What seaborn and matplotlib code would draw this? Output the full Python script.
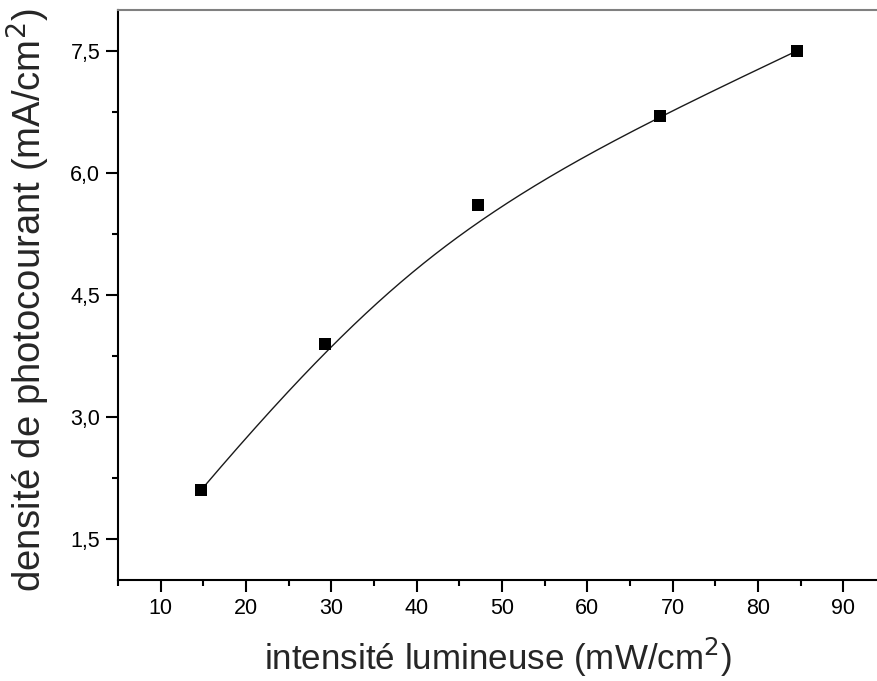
import numpy as np
import pandas as pd
import matplotlib
matplotlib.use("Agg")
import matplotlib.pyplot as plt
import seaborn as sns
from matplotlib.ticker import MultipleLocator, FuncFormatter

# Measured photocurrent density vs. light intensity
intensite = [14.7, 29.3, 47.2, 68.5, 84.6]      # mW/cm^2
densite = [2.1, 3.9, 5.6, 6.7, 7.5]             # mA/cm^2

x_ticks = [10, 20, 30, 40, 50, 60, 70, 80, 90]
y_ticks = [1.5, 3.0, 4.5, 6.0, 7.5]


def bspline(ctrl_x, ctrl_y, degree=3, n=400):
    """Clamped uniform B-spline using the measured points as control points."""
    P = np.column_stack([ctrl_x, ctrl_y])
    m = len(P)
    k = degree
    inner = np.linspace(0, 1, m - k + 1)
    knots = np.concatenate([[0] * k, inner, [1] * k])
    t = np.linspace(0, 1, n)
    t[-1] = 1 - 1e-12

    def basis(i, p, tt):
        if p == 0:
            return ((knots[i] <= tt) & (tt < knots[i + 1])).astype(float)
        out = np.zeros_like(tt)
        d1 = knots[i + p] - knots[i]
        d2 = knots[i + p + 1] - knots[i + 1]
        if d1 > 0:
            out += (tt - knots[i]) / d1 * basis(i, p - 1, tt)
        if d2 > 0:
            out += (knots[i + p + 1] - tt) / d2 * basis(i + 1, p - 1, tt)
        return out

    B = np.column_stack([basis(i, k, t) for i in range(m)])
    C = B @ P
    return C[:, 0], C[:, 1]


sns.set_theme(style="ticks")
plt.rcParams["font.family"] = ["Liberation Sans", "DejaVu Sans"]

fig = plt.figure(figsize=(8.77, 6.81), dpi=100)
W, H = 877, 681
left, right, top, bottom = 118, 886, 10, 580
ax = fig.add_axes([left / W, 1 - bottom / H, (right - left) / W, (bottom - top) / H])

cx, cy = bspline(intensite, densite)
curve = pd.DataFrame({"x": cx, "y": cy})
pts = pd.DataFrame({"intensite": intensite, "densite": densite})

sns.lineplot(data=curve, x="x", y="y", sort=False, ax=ax, color="#1a1a1a",
             linewidth=1.0, zorder=2)
sns.scatterplot(data=pts, x="intensite", y="densite", ax=ax, marker="s",
                s=80, color="black", edgecolor="black", linewidth=0, zorder=3)

ax.set_xlim(5, 95)
ax.set_ylim(1.0, 8.0)
ax.set_xticks(x_ticks)
ax.set_yticks(y_ticks)
ax.xaxis.set_minor_locator(MultipleLocator(5))
ax.yaxis.set_minor_locator(MultipleLocator(0.75))
ax.yaxis.set_major_formatter(FuncFormatter(lambda v, _: f"{v:.1f}".replace(".", ",")))
ax.xaxis.set_major_formatter(FuncFormatter(lambda v, _: f"{v:.0f}"))

ax.tick_params(which="major", direction="out", length=8.5, width=1.5,
               labelsize=15.5, pad=4.3, color="black", labelcolor="black")
ax.tick_params(which="minor", direction="out", length=4.5, width=1.5, color="black")

for side in ("left", "bottom"):
    ax.spines[side].set_linewidth(1.5)
    ax.spines[side].set_color("black")
ax.spines["top"].set_linewidth(1.5)
ax.spines["top"].set_color("#808080")
ax.spines["right"].set_visible(False)

ax.set_xlabel("intensité lumineuse (mW/cm$^2$)", fontsize=25.2)
ax.set_ylabel("densité de photocourant (mA/cm$^2$)", fontsize=27.5)
ax.xaxis.set_label_coords((498 - left) / (right - left), (bottom - 636) / (bottom - top))
ax.yaxis.set_label_coords((52 - left) / (right - left), (bottom - 300) / (bottom - top))
ax.grid(False)

fig.savefig("out.png", dpi=100)
